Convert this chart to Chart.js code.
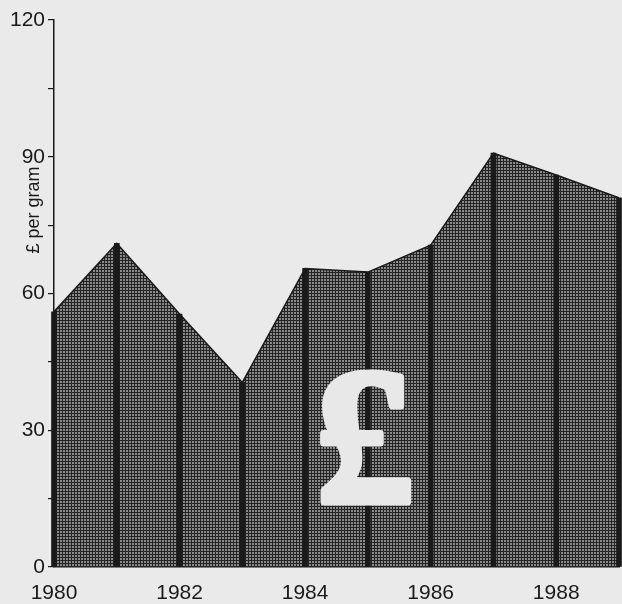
<!DOCTYPE html>
<html>
<head>
<meta charset="utf-8">
<script src="https://cdn.jsdelivr.net/npm/chart.js@4.4.1/dist/chart.umd.min.js"></script>
<style>
  html, body { margin: 0; padding: 0; background: #eaeaea; }
  #wrap { width: 622px; height: 604px; }
</style>
</head>
<body>
<div id="wrap"><canvas id="c" width="622" height="604"></canvas></div>
<script>
// ---- data ----
const years = [1980, 1981, 1982, 1983, 1984, 1985, 1986, 1987, 1988, 1989];
const prices = [56, 71, 55.5, 40.5, 65.5, 64.7, 70.6, 90.8, 86, 81];
const xTickLabels = [1980, 1982, 1984, 1986, 1988];
const yTickLabels = [0, 30, 60, 90, 120];
const yTitle = '£ per gram';
const emblem = '£';

const canvas = document.getElementById('c');
const ctx = canvas.getContext('2d');

// halftone-like stipple pattern
const tile = document.createElement('canvas');
tile.width = 3; tile.height = 3;
const tctx = tile.getContext('2d');
tctx.fillStyle = '#242424';
tctx.fillRect(0, 0, 3, 3);
tctx.fillStyle = '#8a8a8a';
tctx.fillRect(0, 0, 2, 2);
const stipple = ctx.createPattern(tile, 'repeat');

const points = years.map((y, i) => ({ x: y, y: prices[i] }));

const decor = {
  id: 'decor',
  afterDatasetsDraw(chart) {
    const { ctx, scales: { x, y } } = chart;
    ctx.save();
    ctx.fillStyle = '#e8e8e8';
    ctx.strokeStyle = '#e8e8e8';
    ctx.lineWidth = 7;
    ctx.lineJoin = 'round';
    ctx.font = 'bold 196px "Liberation Serif"';
    ctx.textAlign = 'center';
    ctx.textBaseline = 'alphabetic';
    const px = x.getPixelForValue(1984.95), py = y.getPixelForValue(14.2);
    ctx.strokeText(emblem, px, py);
    ctx.fillText(emblem, px, py);
    ctx.restore();
  },
  afterDraw(chart) {
    const { ctx } = chart;
    ctx.save();
    ctx.translate(34, 210);
    ctx.rotate(-Math.PI / 2);
    ctx.fillStyle = '#1a1a1a';
    ctx.font = '18px "Liberation Sans"';
    ctx.textAlign = 'center';
    ctx.textBaseline = 'middle';
    ctx.fillText(yTitle, 0, 0);
    ctx.restore();
  }
};

new Chart(ctx, {
  type: 'line',
  data: {
    datasets: [
      {
        type: 'bar',
        data: points,
        backgroundColor: '#1a1a1a',
        borderWidth: 0,
        barThickness: 5,
        order: 0,
        clip: false
      },
      {
        type: 'line',
        data: points,
        fill: 'origin',
        backgroundColor: stipple,
        borderColor: '#1a1a1a',
        borderWidth: 1.5,
        pointRadius: 0,
        tension: 0,
        order: 1
      }
    ]
  },
  options: {
    responsive: false,
    animation: false,
    events: [],
    layout: { padding: { top: 20, right: 3, left: 0, bottom: 0 } },
    plugins: { legend: { display: false }, tooltip: { enabled: false } },
    scales: {
      x: {
        type: 'linear',
        min: 1980,
        max: 1989,
        offset: false,
        afterBuildTicks(scale) { scale.ticks = xTickLabels.map(v => ({ value: v })); },
        afterFit(scale) { scale.height = 37; },
        grid: { display: false },
        border: { display: true, color: '#1a1a1a', width: 1.5 },
        ticks: {
          color: '#1a1a1a',
          font: { family: 'Liberation Sans', size: 21 },
          padding: 6,
          maxRotation: 0,
          autoSkip: false,
          callback: v => String(v)
        }
      },
      y: {
        min: 0,
        max: 120,
        afterFit(scale) { scale.width = 54; },
        grid: { drawOnChartArea: false, drawTicks: true, tickLength: 6, color: '#1a1a1a', lineWidth: 1.2 },
        border: { display: true, color: '#1a1a1a', width: 1.5 },
        ticks: {
          stepSize: 15,
          color: '#1a1a1a',
          font: { family: 'Liberation Sans', size: 21 },
          padding: 3,
          callback: v => (yTickLabels.includes(v) ? String(v) : '')
        }
      }
    }
  },
  plugins: [decor]
});
</script>
</body>
</html>
